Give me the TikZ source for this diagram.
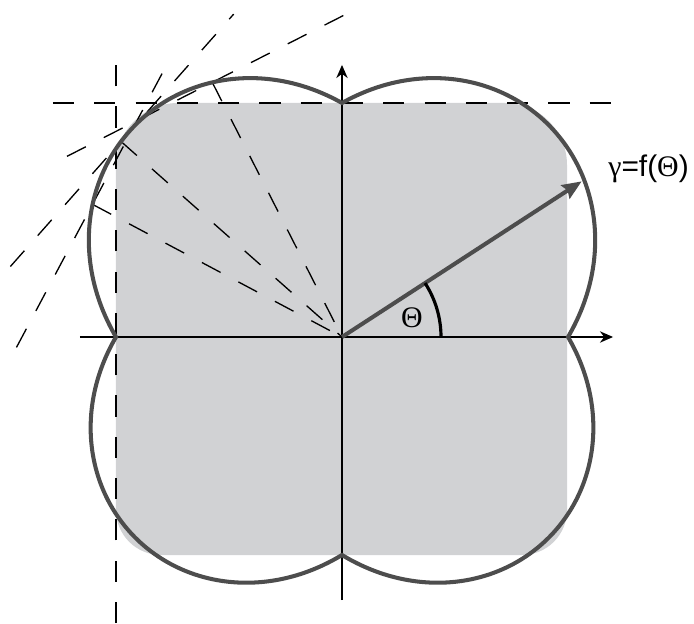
\documentclass[tikz,border=0pt]{standalone}
\usepackage{fontspec}
\setmainfont{Liberation Sans}
\newfontfamily\grk{Liberation Serif}
\usepackage{tikz}
\usetikzlibrary{arrows.meta,calc}
\definecolor{lobegray}{RGB}{77,77,77}
\definecolor{shapegray}{RGB}{209,210,212}
\tikzset{
  axln/.style={-{Stealth[length=7.5pt,width=6.5pt]},line width=0.8pt},
  wulff/.style={line width=0.75pt,dash pattern=on 12pt off 11.5pt},
  lobe/.style={line width=2.3pt,lobegray},
  gvec/.style={-{Stealth[length=11pt,width=9pt,inset=1.5pt]},line width=2.3pt,lobegray},
  angarc/.style={line width=1.8pt},
  lbl/.style={font=\fontsize{17}{20}\selectfont,inner sep=0pt},
  declare function={gam(\t)=226+8*sin(\t)*abs(sin(\t))+66*abs(sin(2*\t));},
}

\begin{document}
\begin{tikzpicture}[scale=0.02]
  \useasboundingbox (-342,-286) rectangle (352,337);
  \coordinate (O) at (0,0);
  % equilibrium shape (inner envelope)
  \fill[shapegray] (-226,-173) -- (-226,172) arc[start angle=180,end angle=90,radius=62]
    -- (163,234) arc[start angle=90,end angle=0,radius=62]
    -- (225,-173) arc[start angle=0,end angle=-90,radius=45]
    -- (-181,-218) arc[start angle=270,end angle=180,radius=45] -- cycle;
  % planes normal to gamma
  \foreach \t/\a/\b in {180/-286/279,152/-162/153,138.5/-167/170,117/-163/151,90/-289/278}{
    \coordinate (P) at (\t:{gam(\t)});
    \draw[wulff] ($(P)+(\t-90:\a)$) -- ($(P)+(\t-90:\b)$);
  }
  \foreach \t in {152,138.5,117}
    \draw[wulff] (\t:{gam(\t)}) -- (O);
  % axes
  \coordinate (xl) at (-262,0);
  \coordinate (xr) at (271,0);
  \coordinate (yb) at (0,-263);
  \coordinate (yt) at (0,272);
  \draw[axln] (xl) -- (xr);
  \draw[axln] (yb) -- (yt);
  % polar plot of gamma
  \draw[lobe] plot[domain=0:360,samples=721] (\x:{gam(\x)}) -- cycle;
  \coordinate (G) at (33:{gam(33)-3});
  \draw[gvec] (O) -- (G);
  \draw[angarc] (99,0) arc[start angle=0,end angle=33,radius=99];
  \node[lbl] (th) at (70,19) {{\grk Θ}};
  \node[lbl,anchor=west] (gf) at (266,168) {{\grk γ}=f({\grk Θ})};
\end{tikzpicture}
\end{document}
